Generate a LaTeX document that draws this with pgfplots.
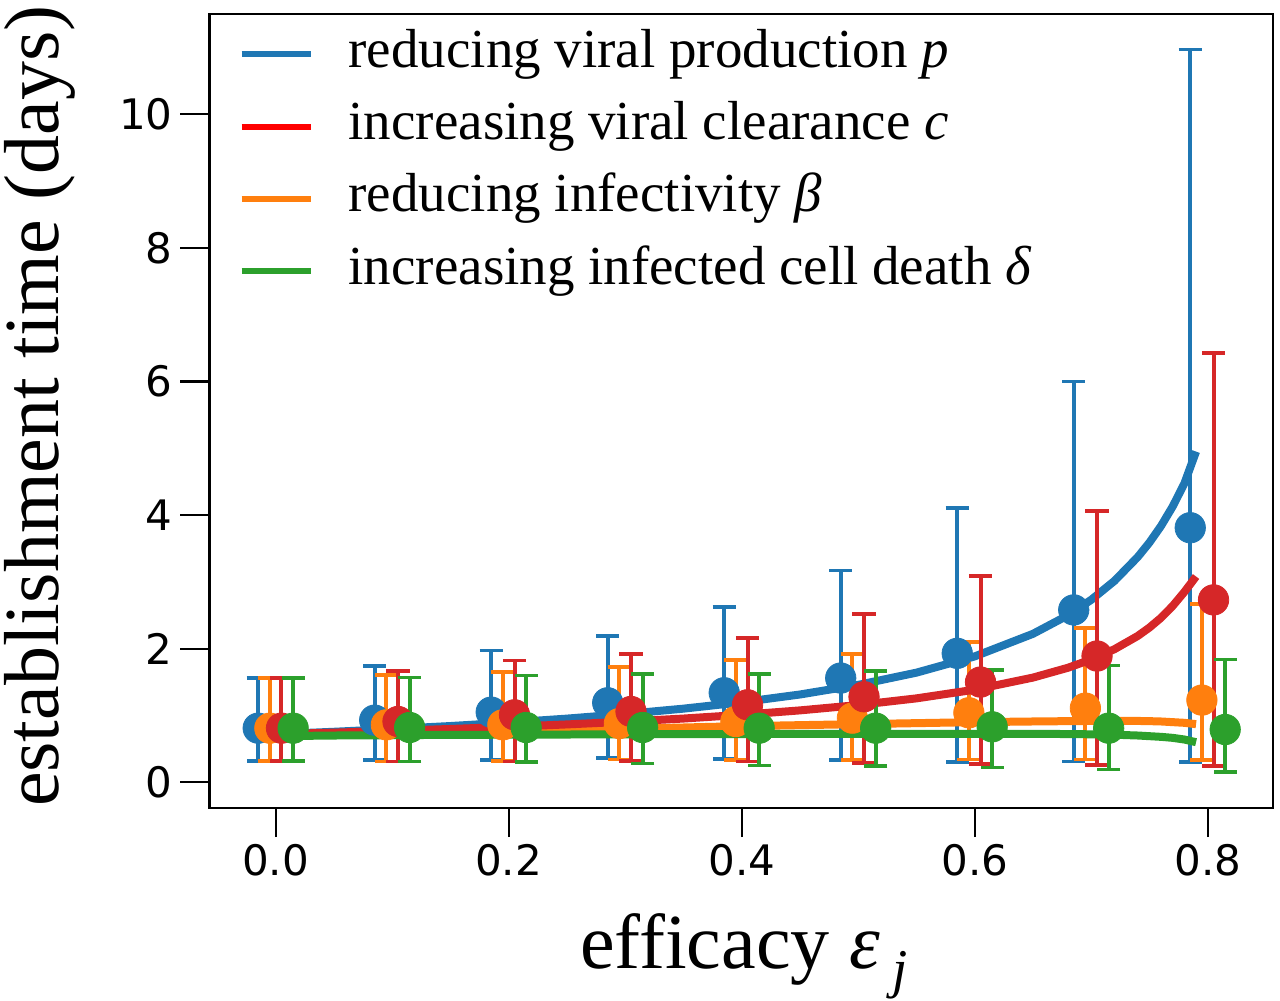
\documentclass[border=0pt]{standalone}
\usepackage{fontspec}
\setmainfont{Liberation Serif}
\newfontfamily\tickfont{DejaVu Sans}
\usepackage{pgfplots}
\pgfplotsset{compat=1.18}
\usepackage{pgfplotstable}
\definecolor{cblue}{HTML}{1F77B4}
\definecolor{corange}{HTML}{FF7F0E}
\definecolor{cred}{HTML}{D62728}
\definecolor{cgreen}{HTML}{2CA02C}
\definecolor{lred}{HTML}{FF0000}

\pgfplotstableread{
e b r o g
0 0.72 0.72 0.71 0.69
0.05 0.756 0.743 0.72 0.70
0.1 0.797 0.769 0.73 0.705
0.15 0.842 0.798 0.745 0.71
0.2 0.894 0.830 0.76 0.712
0.25 0.953 0.866 0.78 0.715
0.3 1.022 0.907 0.80 0.718
0.35 1.102 0.954 0.82 0.72
0.4 1.198 1.010 0.84 0.722
0.45 1.314 1.076 0.855 0.724
0.5 1.458 1.156 0.87 0.725
0.55 1.641 1.256 0.885 0.726
0.6 1.884 1.386 0.90 0.726
0.65 2.222 1.567 0.91 0.725
0.68 2.499 1.714 0.915 0.722
0.70 2.731 1.838 0.918 0.718
0.72 3.015 1.992 0.92 0.712
0.74 3.373 2.191 0.918 0.70
0.75 3.589 2.316 0.915 0.69
0.76 3.838 2.463 0.91 0.68
0.77 4.130 2.641 0.90 0.665
0.78 4.474 2.85 0.89 0.64
0.79 4.95 3.08 0.87 0.60
}\curves

\pgfplotstableread{
e m lo hi
0.0 0.81 0.32 1.56
0.1 0.93 0.33 1.74
0.2 1.05 0.33 1.97
0.3 1.19 0.36 2.19
0.4 1.34 0.35 2.62
0.5 1.56 0.33 3.17
0.6 1.93 0.30 4.11
0.7 2.58 0.31 6.00
0.8 3.81 0.30 10.97
}\tblue

\pgfplotstableread{
e m lo hi
0.0 0.81 0.32 1.56
0.1 0.86 0.31 1.61
0.2 0.86 0.32 1.65
0.3 0.88 0.34 1.73
0.4 0.91 0.33 1.83
0.5 0.96 0.33 1.92
0.6 1.04 0.34 2.10
0.7 1.11 0.34 2.31
0.8 1.23 0.33 2.67
}\torange

\pgfplotstableread{
e m lo hi
0.0 0.81 0.32 1.56
0.1 0.91 0.31 1.67
0.2 1.01 0.31 1.82
0.3 1.06 0.32 1.92
0.4 1.16 0.31 2.16
0.5 1.28 0.29 2.52
0.6 1.50 0.27 3.09
0.7 1.89 0.26 4.06
0.8 2.73 0.24 6.43
}\tred

\pgfplotstableread{
e m lo hi
0.0 0.81 0.32 1.56
0.1 0.82 0.31 1.57
0.2 0.82 0.30 1.60
0.3 0.82 0.28 1.62
0.4 0.81 0.25 1.62
0.5 0.81 0.24 1.67
0.6 0.83 0.22 1.68
0.7 0.81 0.19 1.75
0.8 0.79 0.15 1.84
}\tgreen

\pgfplotsset{
  ebar/.style={only marks, mark=*, mark size=7.6pt,
    mark options={line width=0.4pt, fill=#1, draw=#1}, color=#1,
    error bars/.cd, y dir=both, y explicit,
    error bar style={line width=2pt, color=#1},
    error mark options={rotate=90, mark size=5.8pt, line width=1.8pt, color=#1},
    /pgfplots/.cd},
}

\begin{document}
\begin{tikzpicture}
\useasboundingbox (-104.75pt,-96.5pt) rectangle (535.25pt,404pt);
\begin{axis}[
  at={(0pt,0pt)}, anchor=south west,
  scale only axis, width=531.9pt, height=397pt,
  xmin=-0.0568, xmax=0.8563, ymin=-0.385, ymax=11.5,
  xtick={0,0.2,0.4,0.6,0.8}, ytick={0,2,4,6,8,10},
  xtick pos=left, ytick pos=left,
  tick align=outside, major tick length=14.5pt,
  every tick/.style={black, line width=1.15pt},
  line width=1.15pt,
  ticklabel style={font=\tickfont\fontsize{21pt}{25pt}\selectfont},
  /pgf/number format/assume math mode=true,
  xticklabel style={/pgf/number format/.cd, fixed, fixed zerofill, precision=1},
  yticklabel style={/pgf/number format/.cd, fixed, precision=0},
  xlabel={efficacy \textit{ε}\,\textsubscript{\textit{j}}},
  ylabel={establishment time (days)},
  label style={font=\fontsize{39pt}{45pt}\selectfont},
  xlabel style={at={(axis description cs:0.503,-0.2015)}, anchor=base},
  ylabel style={at={(axis description cs:-0.1593,0.506)}, anchor=center},
  legend cell align=left,
  legend image code/.code={\draw[line width=3pt,#1] (0pt,0pt) -- (34.5pt,0pt);},
  legend style={draw=none, fill=none, at={(axis description cs:0,1)}, anchor=north west,
    xshift=14pt, yshift=-6pt, inner sep=0pt, row sep=9.2pt, column sep=17.5pt,
    font=\fontsize{27.5pt}{33pt}\selectfont,
    nodes={inner sep=0pt, text height=20pt, text depth=7pt}},
]
\addlegendimage{color=cblue}
\addlegendentry{reducing viral production \textit{p}}
\addlegendimage{color=lred}
\addlegendentry{increasing viral clearance \textit{c}}
\addlegendimage{color=corange}
\addlegendentry{reducing infectivity \textit{β}}
\addlegendimage{color=cgreen}
\addlegendentry{increasing infected cell death \textit{δ}}

\addplot[forget plot, cblue, line width=4pt, line join=round] table[x=e, y=b]{\curves};
\addplot[forget plot, ebar=cblue] table[x expr=\thisrow{e}-0.015, y=m, y error plus expr=\thisrow{hi}-\thisrow{m}, y error minus expr=\thisrow{m}-\thisrow{lo}]{\tblue};

\addplot[forget plot, corange, line width=4pt, line join=round] table[x=e, y=o]{\curves};
\addplot[forget plot, ebar=corange] table[x expr=\thisrow{e}-0.005, y=m, y error plus expr=\thisrow{hi}-\thisrow{m}, y error minus expr=\thisrow{m}-\thisrow{lo}]{\torange};

\addplot[forget plot, cred, line width=4pt, line join=round] table[x=e, y=r]{\curves};
\addplot[forget plot, ebar=cred] table[x expr=\thisrow{e}+0.005, y=m, y error plus expr=\thisrow{hi}-\thisrow{m}, y error minus expr=\thisrow{m}-\thisrow{lo}]{\tred};

\addplot[forget plot, cgreen, line width=4pt, line join=round] table[x=e, y=g]{\curves};
\addplot[forget plot, ebar=cgreen] table[x expr=\thisrow{e}+0.015, y=m, y error plus expr=\thisrow{hi}-\thisrow{m}, y error minus expr=\thisrow{m}-\thisrow{lo}]{\tgreen};
\end{axis}
\end{tikzpicture}
\end{document}
